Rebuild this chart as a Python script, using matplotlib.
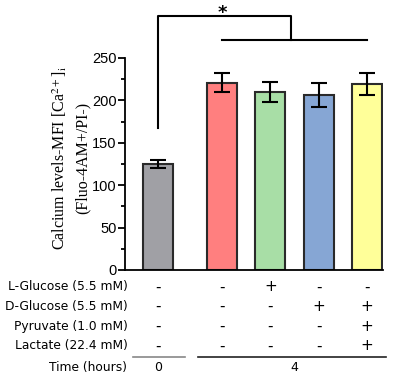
import numpy as np
import matplotlib
matplotlib.use("Agg")
import matplotlib.pyplot as plt
import matplotlib.transforms as mtransforms

plt.rcParams["mathtext.fontset"] = "stix"

# data
groups = ["0h", "4h", "4h L-Glc", "4h D-Glc", "4h D-Glc+Pyr+Lac"]
means = [125, 221, 210, 206, 219]
errs = [5, 11, 12, 14, 13]
colors = ["#a0a0a5", "#ff7f7f", "#a8dea6", "#86a6d4", "#ffff99"]
positions = [0, 1.33, 2.33, 3.33, 4.33]

row_labels = ["L-Glucose (5.5 mM)", "D-Glucose (5.5 mM)", "Pyruvate (1.0 mM)", "Lactate (22.4 mM)"]
row_signs = [
    ["-", "-", "+", "-", "-"],
    ["-", "-", "-", "+", "+"],
    ["-", "-", "-", "-", "+"],
    ["-", "-", "-", "-", "+"],
]
time_labels = ["0", "4"]

fig = plt.figure(figsize=(4.0, 3.77), dpi=100)
ax = fig.add_axes([0.3125, 0.284, 0.645, 0.5623])

ax.bar(positions, means, width=0.62, color=colors, edgecolor="#2a2a2a", linewidth=1.5, zorder=2)
ax.errorbar(positions, means, yerr=errs, fmt="none", ecolor="black", elinewidth=1.5,
            capsize=5.5, capthick=1.5, zorder=3)

ax.set_xlim(-0.68, 4.66)
ax.set_ylim(0, 250)
ax.set_yticks([0, 50, 100, 150, 200, 250])
ax.set_yticks(np.arange(25, 250, 50), minor=True)
ax.set_xticks([])
for s in ["top", "right"]:
    ax.spines[s].set_visible(False)
for s in ["left", "bottom"]:
    ax.spines[s].set_linewidth(1.3)
ax.tick_params(axis="y", which="major", length=5, width=1.3, labelsize=10.5, pad=1)
ax.tick_params(axis="y", which="minor", length=3, width=1.3)
for lbl in ax.get_yticklabels():
    lbl.set_fontfamily("Liberation Sans")

fig.text(0.176, 0.58, "Calcium levels-MFI [Ca$^{2+}$]$_{\\mathrm{i}}$\n(Fluo-4AM+/PI-)",
         rotation=90, ha="center", va="center", multialignment="center",
         family="Liberation Serif", fontsize=11.5, linespacing=1.5)

# significance bracket
ax.plot([positions[0], positions[0], 2.76, 2.76], [167, 300, 300, 271], color="black",
        lw=1.5, clip_on=False)
ax.plot([positions[1], positions[4]], [271, 271], color="black", lw=1.5, clip_on=False)
ax.text(positions[1], 297, "*", ha="center", va="baseline", fontsize=13, fontweight="bold",
        family="DejaVu Sans")

# condition table below axis
trans = mtransforms.blended_transform_factory(ax.transData, ax.transAxes)
row_y = [-0.08, -0.173, -0.268, -0.358]
for lab, signs, y in zip(row_labels, row_signs, row_y):
    ax.text(-0.63, y, lab, transform=trans, ha="right", va="center", fontsize=8.8,
            family="DejaVu Sans")
    for x, s in zip(positions, signs):
        ax.text(x, y, s, transform=trans, ha="center", va="center", fontsize=11,
                family="DejaVu Sans")

ax.plot([-0.52, 0.56], [-0.41, -0.41], transform=trans, color="#888888", lw=1.2, clip_on=False)
ax.plot([0.83, 4.73], [-0.41, -0.41], transform=trans, color="#222222", lw=1.2, clip_on=False)
ax.text(-0.63, -0.462, "Time (hours)", transform=trans, ha="right", va="center", fontsize=8.8,
        family="DejaVu Sans")
ax.text(positions[0], -0.462, time_labels[0], transform=trans, ha="center", va="center",
        fontsize=9, family="DejaVu Sans")
ax.text(np.mean(positions[1:]), -0.462, time_labels[1], transform=trans, ha="center",
        va="center", fontsize=9, family="DejaVu Sans")

fig.savefig("out.png", dpi=100)
